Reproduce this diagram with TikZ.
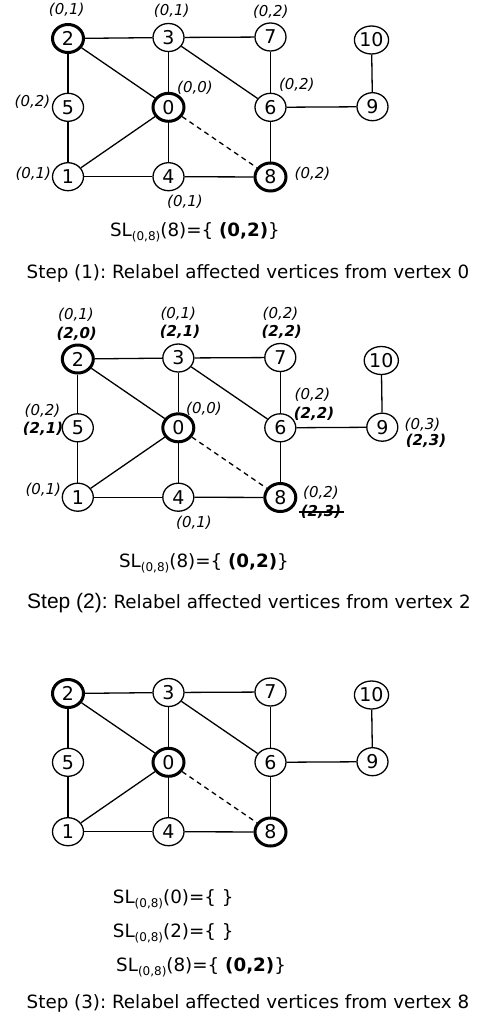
\documentclass[tikz,border=0pt]{standalone}
\usepackage{fontspec}
\setmainfont{DejaVu Sans}
\newfontfamily\arialfont{Liberation Sans}
\usetikzlibrary{shapes.geometric}
\frenchspacing

\tikzset{
  vtx/.style={ellipse, draw, line width=1.3pt, minimum width=31pt, minimum height=28pt,
              inner sep=0pt, font=\fontsize{19}{19}\selectfont},
  hot/.style={vtx, line width=3pt},
  edge/.style={line width=1.3pt},
  cand/.style={edge, dashed, dash pattern=on 5pt off 4pt},
  lab/.style={inner sep=0pt, font=\fontsize{15}{15}\selectfont\itshape},
  blab/.style={inner sep=0pt, font=\fontsize{15}{15}\selectfont\bfseries\itshape},
  caption/.style={inner sep=0pt, font=\fontsize{18.3}{20}\selectfont},
}

% one copy of the graph; #1 = name prefix
\newcommand\graphpanel[1]{%
  \node[hot] (#1-2) at (68,38.5) {2};
  \node[vtx] (#1-3) at (168.5,37.5) {3};
  \node[vtx] (#1-7) at (270.5,37) {7};
  \node[vtx] (#1-10) at (371.5,40) {10};
  \node[vtx] (#1-5) at (68,107.3) {5};
  \node[hot] (#1-0) at (168.5,107.3) {0};
  \node[vtx] (#1-6) at (270.5,107.3) {6};
  \node[vtx] (#1-9) at (372.5,106.7) {9};
  \node[vtx] (#1-1) at (68,176.7) {1};
  \node[vtx] (#1-4) at (168.5,176.7) {4};
  \node[hot] (#1-8) at (270.5,177) {8};
  \draw[edge] (#1-2) -- (#1-3);
  \draw[edge] (#1-3) -- (#1-7);
  \draw[edge] (#1-2) -- (#1-5);
  \draw[edge] (#1-2) -- (#1-0);
  \draw[edge] (#1-3) -- (#1-0);
  \draw[edge] (#1-3) -- (#1-6);
  \draw[edge] (#1-7) -- (#1-6);
  \draw[edge] (#1-10) -- (#1-9);
  \draw[edge] (#1-6) -- (#1-9);
  \draw[edge] (#1-5) -- (#1-1);
  \draw[edge] (#1-1) -- (#1-0);
  \draw[edge] (#1-0) -- (#1-4);
  \draw[edge] (#1-1) -- (#1-4);
  \draw[edge] (#1-4) -- (#1-8);
  \draw[edge] (#1-6) -- (#1-8);
  \draw[cand] (#1-0) -- (#1-8);
}

\newcommand\slab[1]{SL{\fontsize{12}{12}\selectfont\raisebox{-4pt}{(0,8)}}(#1)=\{}

\begin{document}
\begin{tikzpicture}[x=1pt, y=-1pt]
\useasboundingbox (0,0) rectangle (483,1018);

% ---------- step 1 ----------
\begin{scope}
  \graphpanel{a}
\end{scope}
\node[lab] (a-l2) at (66.7,10) {(0,1)};
\node[lab] (a-l3) at (171.7,10.7) {(0,1)};
\node[lab] (a-l7) at (270.8,12) {(0,2)};
\node[lab] (a-l0) at (195,87.3) {(0,0)};
\node[lab] (a-l6) at (296.8,85) {(0,2)};
\node[lab] (a-l5) at (32.5,101.7) {(0,2)};
\node[lab] (a-l1) at (33.3,174) {(0,1)};
\node[lab] (a-l8) at (312.5,173.3) {(0,2)};
\node[lab] (a-l4) at (185,201.7) {(0,1)};
\node[caption] (a-sl) at (195,232.5) {\slab{8} \textbf{(0,2)}\}};
\node[caption] (a-step) at (248,273.5) {Step (1): Relabel affected vertices from vertex 0};

% ---------- step 2 ----------
\begin{scope}[shift={(9.8,320.5)}]
  \graphpanel{b}
\end{scope}
\node[lab] (b-l2) at (76,314.3) {(0,1)};
\node[blab] (b-m2) at (76.7,334) {(2,0)};
\node[lab] (b-l3) at (178.3,314) {(0,1)};
\node[blab] (b-m3) at (180,332) {(2,1)};
\node[lab] (b-l7) at (280.5,314) {(0,2)};
\node[blab] (b-m7) at (281.7,332) {(2,2)};
\node[lab] (b-l0) at (204,408.3) {(0,0)};
\node[lab] (b-l6) at (312.5,395) {(0,2)};
\node[blab] (b-m6) at (314,414) {(2,2)};
\node[lab] (b-l5) at (42.5,410.7) {(0,2)};
\node[blab] (b-m5) at (43,429) {(2,1)};
\node[lab] (b-l9) at (422.5,425) {(0,3)};
\node[blab] (b-m9) at (426,441) {(2,3)};
\node[lab] (b-l1) at (43.3,490) {(0,1)};
\node[lab] (b-l8) at (321,493) {(0,2)};
\node[blab] (b-m8) at (321,512) {(2,3)};
\draw[line width=1.3pt] ([xshift=-2pt]b-m8.west) -- ([xshift=3pt]b-m8.east);
\node[lab] (b-l4) at (194,522.7) {(0,1)};
\node[caption] (b-sl) at (204,563) {\slab{8} \textbf{(0,2)}\}};
\node[caption, anchor=west] (b-step) at (27,603) {{\arialfont\fontsize{21}{21}\selectfont Step (2):} Relabel affected vertices from vertex 2};

% ---------- step 3 ----------
\begin{scope}[shift={(0,655)}]
  \graphpanel{c}
\end{scope}
\node[caption, anchor=west] (c-sl0) at (112.7,899.3) {\slab{0} \}};
\node[caption, anchor=west] (c-sl2) at (112.7,933) {\slab{2} \}};
\node[caption, anchor=west] (c-sl8) at (116,967) {\slab{8} \textbf{(0,2)}\}};
\node[caption] (c-step) at (248,1003) {Step (3): Relabel affected vertices from vertex 8};
\end{tikzpicture}
\end{document}
